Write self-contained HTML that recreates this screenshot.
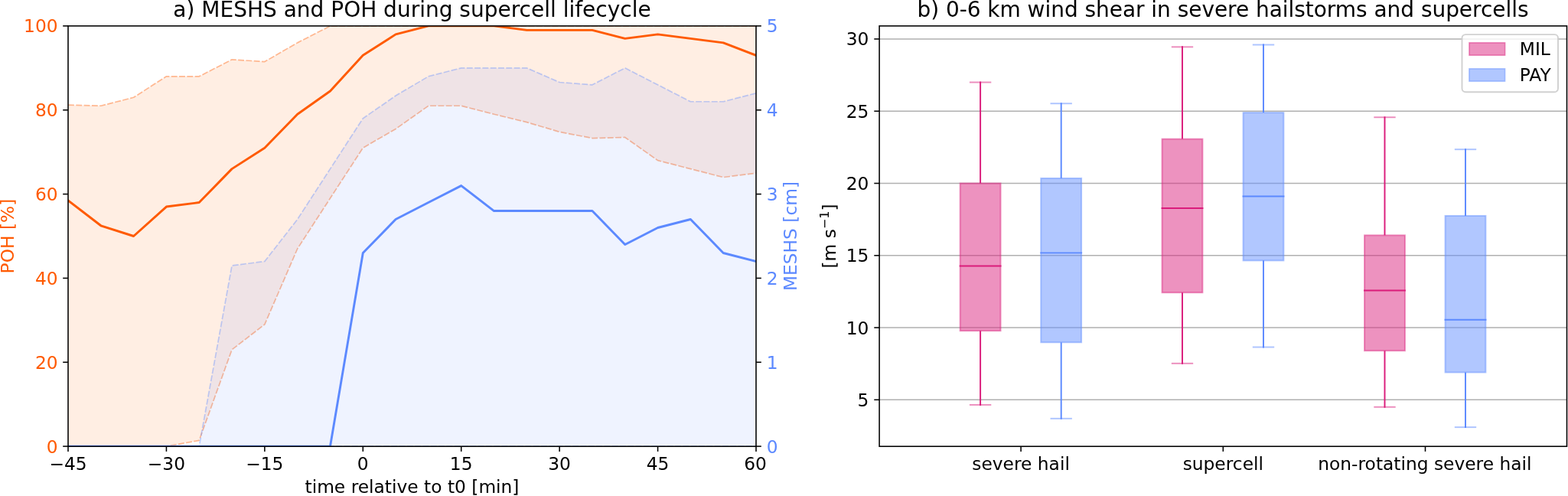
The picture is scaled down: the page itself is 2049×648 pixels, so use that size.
<!DOCTYPE html>
<html lang="en"><head><meta charset="utf-8"><title>MESHS and POH during supercell lifecycle / 0-6 km wind shear</title>
<style>
html,body{margin:0;padding:0;background:#fff;}
body{width:2049px;height:648px;overflow:hidden;}
svg{display:block;}
text{font-family:'DejaVu Sans','Liberation Sans',sans-serif;}
</style></head><body>
<svg width="2049" height="648" viewBox="0 0 2049 648" font-family="'DejaVu Sans','Liberation Sans',sans-serif" font-size="23.33px">
<rect width="2049" height="648" fill="#fff"/>
<defs><clipPath id="cl"><rect x="89.0" y="33.9" width="899.0" height="549.2"/></clipPath>
<clipPath id="cr"><rect x="1149" y="33.9" width="898.5" height="549.2"/></clipPath></defs>
<g clip-path="url(#cl)" fill="none" stroke-linejoin="round">
<polygon points="89.00,137.15 131.81,138.25 174.62,127.26 217.43,99.80 260.24,99.80 303.05,77.84 345.86,80.58 388.67,55.87 431.48,33.90 474.29,33.90 517.10,33.90 559.90,33.90 602.71,33.90 645.52,33.90 688.33,33.90 731.14,33.90 773.95,33.90 816.76,33.90 859.57,33.90 902.38,33.90 945.19,33.90 988.00,33.90 988.00,226.12 945.19,231.61 902.38,220.63 859.57,209.64 816.76,179.44 773.95,180.54 731.14,172.30 688.33,159.67 645.52,149.23 602.71,138.25 559.90,138.25 517.10,168.45 474.29,193.17 431.48,259.07 388.67,324.98 345.86,423.83 303.05,456.78 260.24,575.41 217.43,583.10 174.62,583.10 131.81,583.10 89.00,583.10" fill="#FE6100" fill-opacity="0.11"/>
<polyline points="89.00,137.15 131.81,138.25 174.62,127.26 217.43,99.80 260.24,99.80 303.05,77.84 345.86,80.58 388.67,55.87 431.48,33.90 474.29,33.90 517.10,33.90 559.90,33.90 602.71,33.90 645.52,33.90 688.33,33.90 731.14,33.90 773.95,33.90 816.76,33.90 859.57,33.90 902.38,33.90 945.19,33.90 988.00,33.90" stroke="#FF5A00" stroke-opacity="0.4" stroke-width="1.7" stroke-dasharray="7.9 2.4"/>
<polyline points="89.00,583.10 131.81,583.10 174.62,583.10 217.43,583.10 260.24,575.41 303.05,456.78 345.86,423.83 388.67,324.98 431.48,259.07 474.29,193.17 517.10,168.45 559.90,138.25 602.71,138.25 645.52,149.23 688.33,159.67 731.14,172.30 773.95,180.54 816.76,179.44 859.57,209.64 902.38,220.63 945.19,231.61 988.00,226.12" stroke="#FF5A00" stroke-opacity="0.4" stroke-width="1.7" stroke-dasharray="7.9 2.4"/>
<polyline points="89.00,261.82 131.81,294.77 174.62,308.50 217.43,270.06 260.24,264.56 303.05,220.63 345.86,193.17 388.67,149.23 431.48,119.03 474.29,72.34 517.10,44.88 559.90,33.90 602.71,33.90 645.52,33.90 688.33,39.39 731.14,39.39 773.95,39.39 816.76,50.38 859.57,44.88 902.38,50.38 945.19,55.87 988.00,72.34" stroke="#FF5A00" stroke-width="2.917" stroke-linecap="square"/>
<polygon points="89.00,583.10 131.81,583.10 174.62,583.10 217.43,583.10 260.24,583.10 303.05,346.94 345.86,341.45 388.67,286.53 431.48,220.63 474.29,154.72 517.10,125.07 559.90,99.80 602.71,88.82 645.52,88.82 688.33,88.82 731.14,107.49 773.95,110.79 816.76,88.82 859.57,110.79 902.38,132.76 945.19,132.76 988.00,121.77 988.00,583.10 945.19,583.10 902.38,583.10 859.57,583.10 816.76,583.10 773.95,583.10 731.14,583.10 688.33,583.10 645.52,583.10 602.71,583.10 559.90,583.10 517.10,583.10 474.29,583.10 431.48,583.10 388.67,583.10 345.86,583.10 303.05,583.10 260.24,583.10 217.43,583.10 174.62,583.10 131.81,583.10 89.00,583.10" fill="#648FFF" fill-opacity="0.105"/>
<polyline points="89.00,583.10 131.81,583.10 174.62,583.10 217.43,583.10 260.24,583.10 303.05,346.94 345.86,341.45 388.67,286.53 431.48,220.63 474.29,154.72 517.10,125.07 559.90,99.80 602.71,88.82 645.52,88.82 688.33,88.82 731.14,107.49 773.95,110.79 816.76,88.82 859.57,110.79 902.38,132.76 945.19,132.76 988.00,121.77" stroke="#648FFF" stroke-opacity="0.4" stroke-width="1.7" stroke-dasharray="7.9 2.4"/>
<polyline points="89.00,583.10 131.81,583.10 174.62,583.10 217.43,583.10 260.24,583.10 303.05,583.10 345.86,583.10 388.67,583.10 431.48,583.10 474.29,583.10 517.10,583.10 559.90,583.10 602.71,583.10 645.52,583.10 688.33,583.10 731.14,583.10 773.95,583.10 816.76,583.10 859.57,583.10 902.38,583.10 945.19,583.10 988.00,583.10" stroke="#648FFF" stroke-opacity="0.4" stroke-width="1.7" stroke-dasharray="7.9 2.4"/>
<polyline points="89.00,583.10 131.81,583.10 174.62,583.10 217.43,583.10 260.24,583.10 303.05,583.10 345.86,583.10 388.67,583.10 431.48,583.10 474.29,330.47 517.10,286.53 559.90,264.56 602.71,242.60 645.52,275.55 688.33,275.55 731.14,275.55 773.95,275.55 816.76,319.48 859.57,297.52 902.38,286.53 945.19,330.47 988.00,341.45" stroke="#5C89FF" stroke-width="2.917" stroke-linecap="square"/>
</g>
<g stroke="#000" stroke-width="1.556" fill="none">
<rect x="89.0" y="33.9" width="899.0" height="549.30"/>
<line x1="89.00" y1="583.1" x2="89.00" y2="589.9"/>
<line x1="217.43" y1="583.1" x2="217.43" y2="589.9"/>
<line x1="345.86" y1="583.1" x2="345.86" y2="589.9"/>
<line x1="474.29" y1="583.1" x2="474.29" y2="589.9"/>
<line x1="602.71" y1="583.1" x2="602.71" y2="589.9"/>
<line x1="731.14" y1="583.1" x2="731.14" y2="589.9"/>
<line x1="859.57" y1="583.1" x2="859.57" y2="589.9"/>
<line x1="988.00" y1="583.1" x2="988.00" y2="589.9"/>
<line x1="89.0" y1="583.10" x2="82.2" y2="583.10"/>
<line x1="988.0" y1="583.10" x2="994.8" y2="583.10"/>
<line x1="89.0" y1="473.26" x2="82.2" y2="473.26"/>
<line x1="988.0" y1="473.26" x2="994.8" y2="473.26"/>
<line x1="89.0" y1="363.42" x2="82.2" y2="363.42"/>
<line x1="988.0" y1="363.42" x2="994.8" y2="363.42"/>
<line x1="89.0" y1="253.58" x2="82.2" y2="253.58"/>
<line x1="988.0" y1="253.58" x2="994.8" y2="253.58"/>
<line x1="89.0" y1="143.74" x2="82.2" y2="143.74"/>
<line x1="988.0" y1="143.74" x2="994.8" y2="143.74"/>
<line x1="89.0" y1="33.90" x2="82.2" y2="33.90"/>
<line x1="988.0" y1="33.90" x2="994.8" y2="33.90"/>
</g>
<text x="89.00" y="614.2" text-anchor="middle">−45</text>
<text x="217.43" y="614.2" text-anchor="middle">−30</text>
<text x="345.86" y="614.2" text-anchor="middle">−15</text>
<text x="474.29" y="614.2" text-anchor="middle">0</text>
<text x="602.71" y="614.2" text-anchor="middle">15</text>
<text x="731.14" y="614.2" text-anchor="middle">30</text>
<text x="859.57" y="614.2" text-anchor="middle">45</text>
<text x="987.10" y="614.2" text-anchor="middle">60</text>
<text x="75.60" y="592" text-anchor="end" fill="#FF5A00">0</text>
<text x="1001.80" y="592" fill="#5C89FF">0</text>
<text x="75.60" y="482" text-anchor="end" fill="#FF5A00">20</text>
<text x="1001.80" y="482" fill="#5C89FF">1</text>
<text x="75.60" y="372" text-anchor="end" fill="#FF5A00">40</text>
<text x="1001.80" y="372" fill="#5C89FF">2</text>
<text x="75.60" y="262" text-anchor="end" fill="#FF5A00">60</text>
<text x="1001.80" y="262" fill="#5C89FF">3</text>
<text x="75.60" y="152" text-anchor="end" fill="#FF5A00">80</text>
<text x="1001.80" y="152" fill="#5C89FF">4</text>
<text x="75.60" y="42" text-anchor="end" fill="#FF5A00">100</text>
<text x="1001.80" y="42" fill="#5C89FF">5</text>
<text x="538.50" y="644" text-anchor="middle">time relative to t0 [min]</text>
<text transform="translate(17.8 308.50) rotate(-90)" text-anchor="middle" fill="#FF5A00">POH [%]</text>
<text transform="translate(1041 308.50) rotate(-90)" text-anchor="middle" fill="#5C89FF">MESHS [cm]</text>
<text x="538.50" y="21.7" text-anchor="middle" font-size="28.0px">a) MESHS and POH during supercell lifecycle</text>
<g stroke="#b0b0b0" stroke-width="1.556">
<line x1="1149.1" y1="522.31" x2="2047.5" y2="522.31"/>
<line x1="1149.1" y1="428.04" x2="2047.5" y2="428.04"/>
<line x1="1149.1" y1="333.77" x2="2047.5" y2="333.77"/>
<line x1="1149.1" y1="239.50" x2="2047.5" y2="239.50"/>
<line x1="1149.1" y1="145.23" x2="2047.5" y2="145.23"/>
<line x1="1149.1" y1="50.96" x2="2047.5" y2="50.96"/>
</g>
<rect x="1254.68" y="239.50" width="52.84" height="192.69" fill="#DC267F" fill-opacity="0.5" stroke="#DC267F" stroke-opacity="0.5" stroke-width="1.944"/>
<g stroke="#DA1C7B" stroke-width="1.944" fill="none" stroke-linecap="square">
<line x1="1281.1" y1="239.50" x2="1281.1" y2="106.55" stroke-linecap="butt"/>
<line x1="1281.1" y1="432.19" x2="1281.1" y2="529.88" stroke-linecap="butt"/>
<line x1="1267.8899999999999" y1="107.52" x2="1294.31" y2="107.52" stroke-opacity="0.5"/>
<line x1="1267.8899999999999" y1="528.91" x2="1294.31" y2="528.91" stroke-opacity="0.5"/>
<line x1="1254.68" y1="347.53" x2="1307.52" y2="347.53"/>
</g>
<rect x="1360.28" y="232.90" width="52.84" height="214.37" fill="#648FFF" fill-opacity="0.5" stroke="#648FFF" stroke-opacity="0.5" stroke-width="1.944"/>
<g stroke="#5C89FF" stroke-width="1.944" fill="none" stroke-linecap="square">
<line x1="1386.7" y1="232.90" x2="1386.7" y2="134.27" stroke-linecap="butt"/>
<line x1="1386.7" y1="447.27" x2="1386.7" y2="547.79" stroke-linecap="butt"/>
<line x1="1373.49" y1="135.24" x2="1399.91" y2="135.24" stroke-opacity="0.5"/>
<line x1="1373.49" y1="546.82" x2="1399.91" y2="546.82" stroke-opacity="0.5"/>
<line x1="1360.28" y1="330.38" x2="1413.12" y2="330.38"/>
</g>
<rect x="1518.58" y="181.62" width="52.84" height="200.61" fill="#DC267F" fill-opacity="0.5" stroke="#DC267F" stroke-opacity="0.5" stroke-width="1.944"/>
<g stroke="#DA1C7B" stroke-width="1.944" fill="none" stroke-linecap="square">
<line x1="1545.0" y1="181.62" x2="1545.0" y2="60.36" stroke-linecap="butt"/>
<line x1="1545.0" y1="382.22" x2="1545.0" y2="475.77" stroke-linecap="butt"/>
<line x1="1531.79" y1="61.33" x2="1558.21" y2="61.33" stroke-opacity="0.5"/>
<line x1="1531.79" y1="474.80" x2="1558.21" y2="474.80" stroke-opacity="0.5"/>
<line x1="1518.58" y1="271.93" x2="1571.42" y2="271.93"/>
</g>
<rect x="1624.58" y="147.12" width="52.84" height="193.25" fill="#648FFF" fill-opacity="0.5" stroke="#648FFF" stroke-opacity="0.5" stroke-width="1.944"/>
<g stroke="#5C89FF" stroke-width="1.944" fill="none" stroke-linecap="square">
<line x1="1651.0" y1="147.12" x2="1651.0" y2="57.53" stroke-linecap="butt"/>
<line x1="1651.0" y1="340.37" x2="1651.0" y2="454.46" stroke-linecap="butt"/>
<line x1="1637.79" y1="58.50" x2="1664.21" y2="58.50" stroke-opacity="0.5"/>
<line x1="1637.79" y1="453.49" x2="1664.21" y2="453.49" stroke-opacity="0.5"/>
<line x1="1624.58" y1="256.47" x2="1677.42" y2="256.47"/>
</g>
<rect x="1783.08" y="307.37" width="52.84" height="150.83" fill="#DC267F" fill-opacity="0.5" stroke="#DC267F" stroke-opacity="0.5" stroke-width="1.944"/>
<g stroke="#DA1C7B" stroke-width="1.944" fill="none" stroke-linecap="square">
<line x1="1809.5" y1="307.37" x2="1809.5" y2="152.27" stroke-linecap="butt"/>
<line x1="1809.5" y1="458.21" x2="1809.5" y2="532.71" stroke-linecap="butt"/>
<line x1="1796.29" y1="153.24" x2="1822.71" y2="153.24" stroke-opacity="0.5"/>
<line x1="1796.29" y1="531.74" x2="1822.71" y2="531.74" stroke-opacity="0.5"/>
<line x1="1783.08" y1="379.59" x2="1835.92" y2="379.59"/>
</g>
<rect x="1888.58" y="281.92" width="52.84" height="204.57" fill="#648FFF" fill-opacity="0.5" stroke="#648FFF" stroke-opacity="0.5" stroke-width="1.944"/>
<g stroke="#5C89FF" stroke-width="1.944" fill="none" stroke-linecap="square">
<line x1="1915.0" y1="281.92" x2="1915.0" y2="194.22" stroke-linecap="butt"/>
<line x1="1915.0" y1="486.49" x2="1915.0" y2="559.10" stroke-linecap="butt"/>
<line x1="1901.79" y1="195.19" x2="1928.21" y2="195.19" stroke-opacity="0.5"/>
<line x1="1901.79" y1="558.13" x2="1928.21" y2="558.13" stroke-opacity="0.5"/>
<line x1="1888.58" y1="417.67" x2="1941.42" y2="417.67"/>
</g>
<g stroke="#000" stroke-width="1.556" fill="none">
<rect x="1149.1" y="33.9" width="898.40" height="549.30"/>
<line x1="1149.1" y1="522.31" x2="1142.3" y2="522.31"/>
<line x1="1149.1" y1="428.04" x2="1142.3" y2="428.04"/>
<line x1="1149.1" y1="333.77" x2="1142.3" y2="333.77"/>
<line x1="1149.1" y1="239.50" x2="1142.3" y2="239.50"/>
<line x1="1149.1" y1="145.23" x2="1142.3" y2="145.23"/>
<line x1="1149.1" y1="50.96" x2="1142.3" y2="50.96"/>
<line x1="1334.1" y1="583.1" x2="1334.1" y2="589.9"/>
<line x1="1598.3" y1="583.1" x2="1598.3" y2="589.9"/>
<line x1="1862.5" y1="583.1" x2="1862.5" y2="589.9"/>
</g>
<text x="1135.40" y="531" text-anchor="end">5</text>
<text x="1135.40" y="437" text-anchor="end">10</text>
<text x="1135.40" y="342" text-anchor="end">15</text>
<text x="1135.40" y="248" text-anchor="end">20</text>
<text x="1135.40" y="154" text-anchor="end">25</text>
<text x="1135.40" y="59" text-anchor="end">30</text>
<text x="1334.10" y="614.2" text-anchor="middle">severe hail</text>
<text x="1598.30" y="614.2" text-anchor="middle">supercell</text>
<text x="1861.90" y="614.2" text-anchor="middle">non-rotating severe hail</text>
<text transform="translate(1092.1 308.50) rotate(-90)" text-anchor="middle">[m s<tspan font-size="16.04px" dy="-8.7">−1</tspan><tspan dy="8.7">]</tspan></text>
<text x="1597.95" y="21.7" text-anchor="middle" font-size="28.0px" textLength="799.1" lengthAdjust="spacing">b) 0-6 km wind shear in severe hailstorms and supercells</text>
<rect x="1910.5" y="45.1" width="125.5" height="75.1" rx="4.7" ry="4.7" fill="#fff" fill-opacity="0.8" stroke="#ccc" stroke-opacity="0.9" stroke-width="1.944"/>
<rect x="1919.95" y="55.85" width="46.67" height="16.33" fill="#DC267F" fill-opacity="0.5" stroke="#DC267F" stroke-opacity="0.5" stroke-width="1.556"/>
<rect x="1919.9" y="89.8" width="46.67" height="16.33" fill="#648FFF" fill-opacity="0.5" stroke="#648FFF" stroke-opacity="0.5" stroke-width="1.556"/>
<text x="1985.8" y="72.3">MIL</text>
<text x="1985.8" y="106.1">PAY</text>
</svg>
</body></html>
